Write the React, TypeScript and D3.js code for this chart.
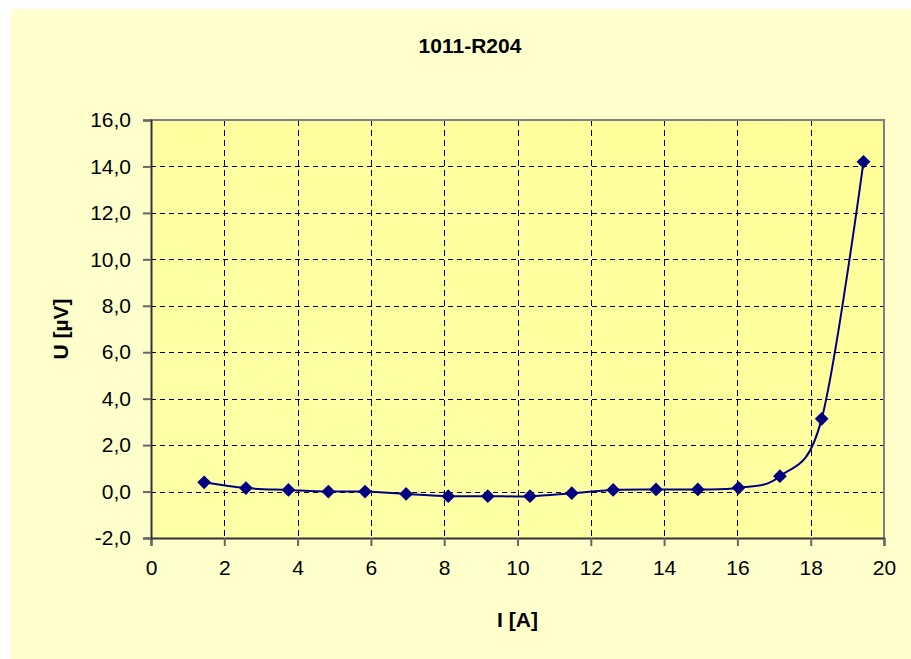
import React, { useEffect, useRef } from 'react';
import * as d3 from 'd3';

// measured points: current I [A] vs voltage U [µV]
const currents = [1.45, 2.59, 3.75, 4.84, 5.84, 6.96, 8.11, 9.19, 10.34, 11.48, 12.61, 13.78, 14.92, 16.03, 17.16, 18.3, 19.44];
const voltages = [0.4, 0.15, 0.07, 0.0, 0.0, -0.1, -0.2, -0.2, -0.2, -0.07, 0.07, 0.09, 0.09, 0.16, 0.66, 3.13, 14.2];

const xTicks = [0, 2, 4, 6, 8, 10, 12, 14, 16, 18, 20];
const yTicks = [-2, 0, 2, 4, 6, 8, 10, 12, 14, 16];

const title = '1011-R204';
const xTitle = 'I [A]';
const yTitle = 'U [µV]';

const W = 911;
const H = 659;

function App() {
    const svgRef = useRef(null);

    useEffect(() => {
        const svg = d3.select(svgRef.current);
        svg.selectAll('*').remove();

        const margin = { top: 120, right: 27, bottom: 121, left: 151 };
        const font = '"Liberation Sans", Arial, sans-serif';

        const x = d3.scaleLinear().domain([0, 20]).range([margin.left, W - margin.right]);
        const y = d3.scaleLinear().domain([-2, 16]).range([H - margin.bottom, margin.top]);

        const defs = svg.append('defs');
        const grad = defs.append('linearGradient')
            .attr('id', 'plotFill')
            .attr('x1', '0').attr('y1', '1').attr('x2', '1').attr('y2', '0');
        grad.append('stop').attr('offset', '0%').attr('stop-color', '#ffffa8');
        grad.append('stop').attr('offset', '100%').attr('stop-color', '#ffff99');

        // chart area
        svg.append('rect')
            .attr('x', 11).attr('y', 9)
            .attr('width', W - 11).attr('height', H - 9)
            .attr('fill', '#ffffcc');

        // plot area
        svg.append('rect')
            .attr('x', x(0)).attr('y', y(16))
            .attr('width', x(20) - x(0)).attr('height', y(-2) - y(16))
            .attr('fill', 'url(#plotFill)');

        // grid
        svg.append('g')
            .selectAll('line')
            .data(xTicks.slice(1, -1))
            .join('line')
            .attr('x1', d => Math.round(x(d)) + 0.5).attr('x2', d => Math.round(x(d)) + 0.5)
            .attr('y1', y(16)).attr('y2', y(-2))
            .attr('stroke', '#000').attr('stroke-width', 1).attr('stroke-dasharray', '6,4');

        svg.append('g')
            .selectAll('line')
            .data(yTicks.slice(1, -1))
            .join('line')
            .attr('x1', x(0)).attr('x2', x(20))
            .attr('y1', d => Math.round(y(d)) + 0.5).attr('y2', d => Math.round(y(d)) + 0.5)
            .attr('stroke', '#000').attr('stroke-width', 1).attr('stroke-dasharray', '5,4');

        // top/right border
        svg.append('path')
            .attr('d', `M${x(0)},${y(16)}H${x(20)}V${y(-2)}`)
            .attr('fill', 'none').attr('stroke', '#808080').attr('stroke-width', 2);

        // axes
        const xAxis = d3.axisBottom(x).tickValues(xTicks).tickSize(8).tickPadding(14).tickFormat(d3.format('d'));
        const gx = svg.append('g')
            .attr('transform', `translate(0,${y(-2)})`)
            .call(xAxis);
        gx.select('.domain').attr('stroke', '#333').attr('stroke-width', 2);
        gx.selectAll('.tick line').attr('stroke', '#666').attr('stroke-width', 2);
        gx.selectAll('text').attr('font-family', font).attr('font-size', 21).attr('fill', '#000');

        const yAxis = d3.axisLeft(y).tickValues(yTicks).tickSize(8).tickPadding(12)
            .tickFormat(d => d3.format('.1f')(d).replace('.', ',').replace('−', '-'));
        const gy = svg.append('g')
            .attr('transform', `translate(${x(0)},0)`)
            .call(yAxis);
        gy.select('.domain').attr('stroke', '#333').attr('stroke-width', 2);
        gy.selectAll('.tick line').attr('stroke', '#666').attr('stroke-width', 2);
        gy.selectAll('text').attr('font-family', font).attr('font-size', 21).attr('fill', '#000');

        // smoothed line (Excel-style smoothing)
        const pts = currents.map((c, i) => [c, voltages[i]]);
        const line = d3.line()
            .x(d => x(d[0]))
            .y(d => y(d[1]))
            .curve(d3.curveCardinal.tension(0));
        svg.append('path')
            .datum(pts)
            .attr('d', line)
            .attr('fill', 'none')
            .attr('stroke', '#000080')
            .attr('stroke-width', 2);

        // diamond markers
        svg.append('g')
            .selectAll('path')
            .data(pts)
            .join('path')
            .attr('transform', d => `translate(${x(d[0])},${y(d[1])}) rotate(45)`)
            .attr('d', d3.symbol().type(d3.symbolSquare).size(95))
            .attr('fill', '#000080');

        // titles
        svg.append('text')
            .attr('x', 470).attr('y', 53)
            .attr('text-anchor', 'middle')
            .attr('font-family', font).attr('font-size', 21).attr('font-weight', 'bold')
            .text(title);

        svg.append('text')
            .attr('x', (x(0) + x(20)) / 2).attr('y', 627)
            .attr('text-anchor', 'middle')
            .attr('font-family', font).attr('font-size', 21).attr('font-weight', 'bold')
            .text(xTitle);

        svg.append('text')
            .attr('transform', `translate(68,${(y(16) + y(-2)) / 2}) rotate(-90)`)
            .attr('text-anchor', 'middle')
            .attr('font-family', font).attr('font-size', 21).attr('font-weight', 'bold')
            .text(yTitle);
    }, []);

    return (
        <div style={{ position: 'absolute', left: 0, top: 0 }}>
            <svg ref={svgRef} width={W} height={H} style={{ display: 'block', background: '#fff' }}></svg>
        </div>
    );
}

export default App;
